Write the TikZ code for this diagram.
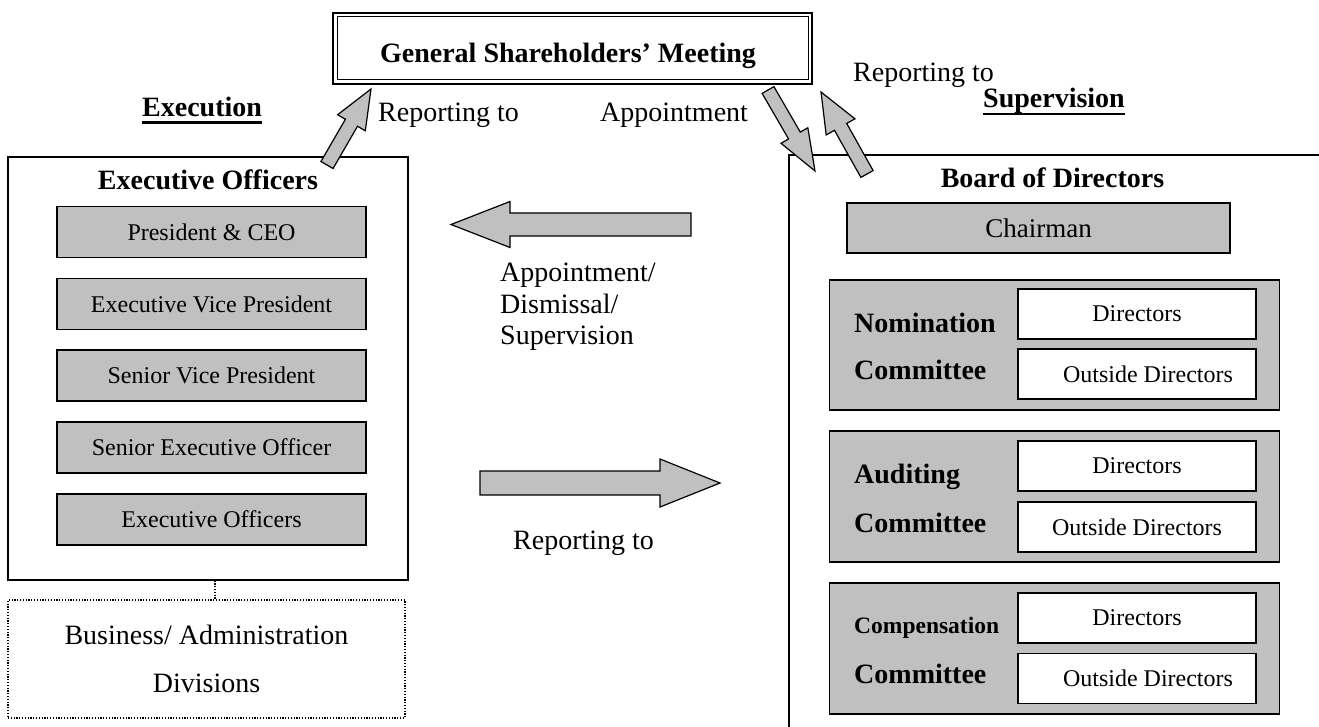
\documentclass[tikz,border=0pt]{standalone}
\usepackage{fontspec}
\setmainfont{Liberation Serif}
\usetikzlibrary{calc}
\definecolor{boxgray}{HTML}{C0C0C0}

% block arrow: name, tail, tip, shaft half-width, head half-width, head length
\newcommand\blockarrow[6]{%
  \coordinate (#1-neck) at ($(#3)!#6!(#2)$);
  \draw[arrowbody]
    ($(#2)!#4!90:(#3)$) -- ($(#1-neck)!#4!90:(#3)$) -- ($(#1-neck)!#5!90:(#3)$)
    -- (#3)
    -- ($(#1-neck)!#5!-90:(#3)$) -- ($(#1-neck)!#4!-90:(#3)$) -- ($(#2)!#4!-90:(#3)$)
    -- cycle;
}

\begin{document}
\begin{tikzpicture}[x=1pt,y=-1pt,
  frame/.style={draw, line width=1.3pt, inner sep=0pt},
  lbl/.style={inner sep=0pt, font=\fontsize{28}{32}\selectfont},
  head/.style={inner sep=0pt, font=\fontsize{28}{32}\selectfont\bfseries},
  graybox/.style={draw, fill=boxgray, line width=1.3pt, inner sep=0pt,
    minimum width=309pt, minimum height=51pt, font=\fontsize{24}{28}\selectfont},
  whitebox/.style={draw, fill=white, line width=1.3pt, inner sep=0pt,
    minimum width=238pt, minimum height=50pt, font=\fontsize{24}{28}\selectfont},
  combox/.style={draw, fill=boxgray, line width=1.3pt, inner sep=0pt,
    minimum width=450pt, minimum height=131pt},
  dotbox/.style={draw, line width=1.1pt, dash pattern=on 1.2pt off 1.6pt, inner sep=0pt},
  dotline/.style={draw, line width=1.1pt, dash pattern=on 1.2pt off 1.6pt},
  arrowbody/.style={draw, fill=boxgray, line width=1.2pt, line join=miter},
  ruled/.style={line width=2.6pt}
]
\useasboundingbox (0,0) rectangle (1319,727);

% General Shareholders' Meeting (double frame)
\node[frame, line width=2pt, minimum width=479pt, minimum height=71pt] (gsm) at (572.5,48.5) {};
\draw[line width=1pt] ([shift={(5pt,-5pt)}]gsm.north west) rectangle ([shift={(-5pt,5pt)}]gsm.south east);
\node[head, anchor=base] (gsm-title) at (568,63) {General Shareholders’ Meeting};

% Execution side
\node[head, anchor=base west] (execution) at (142,117) {Execution};
\draw[ruled] ([yshift=-5.5pt]execution.base west) -- ([yshift=-5.5pt]execution.base east);

\node[frame, minimum width=400pt, minimum height=423pt] (exec) at (208,368.5) {};
\node[head, anchor=base] (exec-title) at (208,190) {Executive Officers};
\node[graybox] (ceo) at (211.5,232) {President \& CEO};
\node[graybox] (evp) at (211.5,304) {Executive Vice President};
\node[graybox] (svp) at (211.5,375.5) {Senior Vice President};
\node[graybox] (seo) at (211.5,447.5) {Senior Executive Officer};
\node[graybox] (eo)  at (211.5,519.5) {Executive Officers};

\node[dotbox, minimum width=397pt, minimum height=118pt, align=center,
  font=\fontsize{28}{48}\selectfont] (biz) at (206.5,659) {Business/ Administration\\Divisions};
\draw[dotline] ([xshift=7pt]exec.south) -- ([xshift=8.5pt]biz.north);

% Supervision side
\node[head, anchor=base west] (supervision) at (983,108) {Supervision};
\draw[ruled] ([yshift=-6pt]supervision.base west) -- ([yshift=-6pt]supervision.base east);

\coordinate (bd-tr) at (1325,155);
\coordinate (bd-tl) at (789,155);
\coordinate (bd-bl) at (789,735);
\draw[line width=1.3pt] (bd-tr) -- (bd-tl) -- (bd-bl);
\node[head, anchor=base] (board-title) at (1052.5,188) {Board of Directors};
\node[graybox, minimum width=383pt, minimum height=50pt, font=\fontsize{27}{32}\selectfont] (chair) at (1038.5,228) {Chairman};

\node[combox, minimum height=130pt] (nom) at (1054.5,345) {};
\node[whitebox] (nom-d) at (1137,314) {Directors};
\node[whitebox] (nom-o) at (1137,374) {\hspace*{22pt}Outside Directors};
\node[head, anchor=base west] (nom-t1) at (854,332) {Nomination};
\node[head, anchor=base west] (nom-t2) at (854,379) {Committee};

\node[combox] (aud) at (1054.5,496.5) {};
\node[whitebox] (aud-d) at (1137,466) {Directors};
\node[whitebox] (aud-o) at (1137,527) {Outside Directors};
\node[head, anchor=base west] (aud-t1) at (854,483) {Auditing};
\node[head, anchor=base west] (aud-t2) at (854,532) {Committee};

\node[combox] (comp) at (1054.5,648.5) {};
\node[whitebox] (comp-d) at (1137,618) {Directors};
\node[whitebox] (comp-o) at (1137,678.5) {\hspace*{22pt}Outside Directors};
\node[inner sep=0pt, font=\fontsize{23.5}{28}\selectfont\bfseries, anchor=base west] (comp-t1) at (854,633) {Compensation};
\node[head, anchor=base west] (comp-t2) at (854,683) {Committee};

% Block arrows
\coordinate (exrep-tail) at (327,165);
\coordinate (exrep-tip) at (371,89);
\blockarrow{exrep}{exrep-tail}{exrep-tip}{7pt}{16pt}{39pt}

\coordinate (appt-tail) at (768,90);
\coordinate (appt-tip) at (815,171);
\blockarrow{appt}{appt-tail}{appt-tip}{6.8pt}{15.5pt}{41pt}

\coordinate (bdrep-tail) at (867,174);
\coordinate (bdrep-tip) at (821,92);
\blockarrow{bdrep}{bdrep-tail}{bdrep-tip}{7pt}{16.5pt}{40pt}

\coordinate (sup-tail) at (691,224.5);
\coordinate (sup-tip) at (451,224.5);
\blockarrow{sup}{sup-tail}{sup-tip}{11.5pt}{23pt}{59pt}

\coordinate (rep-tail) at (480,483);
\coordinate (rep-tip) at (720,483);
\blockarrow{rep}{rep-tail}{rep-tip}{12pt}{24pt}{60pt}

% Arrow labels
\node[lbl, anchor=base west] (exrep-lbl) at (378,122) {Reporting to};
\node[lbl, anchor=base west] (appt-lbl) at (600,122) {Appointment};
\node[lbl, anchor=base west] (bdrep-lbl) at (853,82) {Reporting to};
\node[lbl, align=left, anchor=north west, font=\fontsize{28}{31.5}\selectfont] (sup-lbl) at (500,263) {Appointment/\\Dismissal/\\Supervision};
\node[lbl, anchor=base west] (rep-lbl) at (513,549) {Reporting to};
\end{tikzpicture}
\end{document}
